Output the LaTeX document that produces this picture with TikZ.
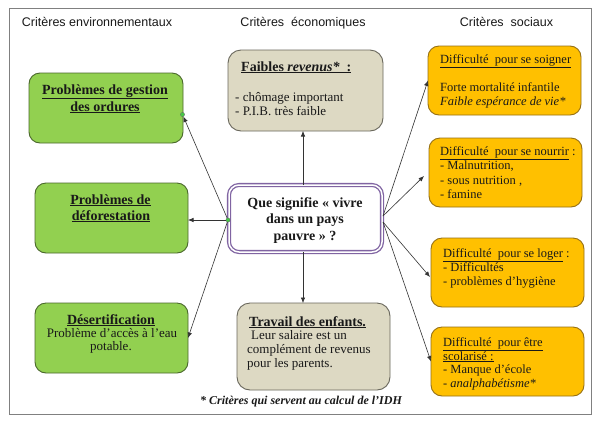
\documentclass[tikz,border=0pt]{standalone}
\usepackage{fontspec}
\setmainfont{Liberation Serif}
\setsansfont{Liberation Sans}
\usetikzlibrary{arrows.meta}
\definecolor{gfill}{RGB}{146,208,80}
\definecolor{gline}{RGB}{74,104,44}
\definecolor{bfill}{RGB}{221,217,195}
\definecolor{bline}{RGB}{105,103,92}
\definecolor{ofill}{RGB}{255,192,0}
\definecolor{oline}{RGB}{150,112,20}
\definecolor{pline}{RGB}{128,100,162}
\definecolor{txtc}{RGB}{25,25,25}
\definecolor{dotc}{RGB}{70,200,70}
\definecolor{framec}{RGB}{128,128,128}
\newcommand\myfA{\fontsize{14}{16}\selectfont\bfseries}
\newcommand\myfB{\fontsize{13}{14}\selectfont}
\newcommand\myfC{\fontsize{12.5}{14}\selectfont}
\newcommand\myfH{\sffamily\fontsize{12.5}{14}\selectfont}
\newcommand\myfN{\fontsize{12}{14}\selectfont\bfseries\itshape}
\begin{document}
\begin{tikzpicture}[x=1pt,y=-1pt,
  box/.style={rounded corners=11pt, line width=0.9pt, inner sep=0pt, outer sep=0pt},
  gbox/.style={box, draw=gline, fill=gfill},
  bbox/.style={box, rounded corners=13pt, draw=bline, fill=bfill},
  obox/.style={box, draw=oline, fill=ofill},
  cbox/.style={box, rounded corners=10pt, draw=pline, double=white, line width=1.3pt, double distance=1.5pt},
  tx/.style={inner sep=0pt, anchor=base west, text=txtc},
  tc/.style={inner sep=0pt, anchor=base, text=txtc},
  conn/.style={draw=black!80, line width=0.6pt},
  arr/.style={conn, -{Latex[length=5.5pt,width=4.5pt]}},
  gdot/.style={circle, inner sep=0pt, minimum size=4.2pt, fill=dotc, draw=black!60, line width=0.3pt}
]
\useasboundingbox (0,0) rectangle (599,421);
\node[draw=framec, line width=0.9pt, fill=white, minimum width=582pt, minimum height=406pt, inner sep=0pt] (frame) at (300,211) {};

% headers
\node[tc, font=\myfH] (h1) at (97,26) {Critères environnementaux};
\node[tc, font=\myfH] (h2) at (303,26) {Critères\ \ économiques};
\node[tc, font=\myfH] (h3) at (506.5,26) {Critères\ \ sociaux};

% boxes
\node[gbox, minimum width=154pt, minimum height=70pt] (g1) at (106,108) {};
\node[gbox, minimum width=153pt, minimum height=70pt] (g2) at (111.5,218) {};
\node[gbox, minimum width=153pt, minimum height=70pt] (g3) at (111.5,338) {};
\node[bbox, minimum width=155pt, minimum height=81pt] (b1) at (305.5,90.5) {};
\node[bbox, minimum width=153pt, minimum height=87pt] (b2) at (313.5,346.5) {};
\node[cbox, fill=white, minimum width=153pt, minimum height=67pt] (c) at (305.5,218.5) {};
\node[obox, minimum width=153pt, minimum height=69pt] (o1) at (504.5,80.5) {};
\node[obox, minimum width=153pt, minimum height=69pt] (o2) at (505.5,172.5) {};
\node[obox, minimum width=153pt, minimum height=69pt] (o3) at (507.5,272.5) {};
\node[obox, minimum width=153pt, minimum height=69pt] (o4) at (507.5,361.5) {};

% green texts
\node[tc, font=\myfA] (g1a) at (105,94) {\underline{Problèmes de gestion}};
\node[tc, font=\myfA] (g1b) at (105,111) {\underline{des ordures}};
\node[tc, font=\myfA] (g2a) at (110.5,204) {\underline{Problèmes de}};
\node[tc, font=\myfA] (g2b) at (111,220) {\underline{déforestation}};
\node[tc, font=\myfA] (g3a) at (111,324) {\underline{Désertification}};
\node[tc, font=\myfB] (g3b) at (112,337.5) {Problème d’accès à l’eau};
\node[tc, font=\myfB] (g3c) at (111,350.5) {potable.};

% central texts
\node[tc, font=\myfA] (c1) at (305,207) {Que signifie « vivre};
\node[tc, font=\myfA] (c2) at (305,223.5) {dans un pays};
\node[tc, font=\myfA] (c3) at (305,240) {pauvre » ?};

% beige texts
\node[tx, font=\myfA] (b1a) at (241,71) {\underline{Faibles \textit{revenus*}\ \ :}};
\node[tx, font=\myfB] (b1b) at (235,101) {- chômage important};
\node[tx, font=\myfB] (b1c) at (235,115) {- P.I.B. très faible};
\node[tx, font=\myfA] (b2a) at (249,326) {\underline{Travail des enfants.}};
\node[tx, font=\myfB] (b2b) at (251,339) {Leur salaire est un};
\node[tx, font=\myfB] (b2c) at (247,353) {complément de revenus};
\node[tx, font=\myfB] (b2d) at (247,367) {pour les parents.};

% orange texts
\node[tx, font=\myfC] (o1a) at (440,63) {\underline{Difficulté\ \ pour se soigner}};
\node[tx, font=\myfC] (o1b) at (440,91) {Forte mortalité infantile};
\node[tx, font=\myfC] (o1c) at (440,105) {\textit{Faible espérance de vie*}};
\node[tx, font=\myfC] (o2a) at (440,155) {\underline{Difficulté\ \ pour se nourrir} :};
\node[tx, font=\myfC] (o2b) at (440,169.5) {- Malnutrition,};
\node[tx, font=\myfC] (o2c) at (440,184) {- sous nutrition ,};
\node[tx, font=\myfC] (o2d) at (440,198) {- famine};
\node[tx, font=\myfC] (o3a) at (443,257) {\underline{Difficulté\ \ pour se loger} :};
\node[tx, font=\myfC] (o3b) at (443,271) {- Difficultés};
\node[tx, font=\myfC] (o3c) at (443,285) {- problèmes d’hygiène};
\node[tx, font=\myfC] (o4a) at (443,346) {\underline{Difficulté\ \ pour être}};
\node[tx, font=\myfC] (o4b) at (443,360) {\underline{scolarisé :}};
\node[tx, font=\myfC] (o4c) at (443,373.5) {- Manque d’école};
\node[tx, font=\myfC] (o4d) at (443,387) {- \textit{analphabétisme*}};

% footnote
\node[tc, font=\myfN] (note) at (301,404) {* Critères qui servent au calcul de l’IDH};

% connectors
\coordinate (vx) at (303,0);
\draw[arr] (c.north -| vx) -- (b1.south -| vx);
\draw[arr] (c.south -| vx) -- (b2.north -| vx);

\node[gdot] (dL) at (228,220) {};
\node[gdot] (dG) at (182.5,114.5) {};
\draw[arr] (dL) -- (g2.east |- dL);
\draw[arr] (dL) -- (dG);
\draw[arr] (dL) -- (g3.east);

\coordinate (Ru) at (383,216);
\coordinate (Rl) at (383,222);
\coordinate (o2t) at (424,176);
\coordinate (o3t) at (430,277);
\draw[arr] (Ru) -- (o1.west);
\draw[arr] (Ru) -- (o2t);
\draw[arr] (Rl) -- (o3t);
\draw[arr] (Rl) -- (o4.west);
\end{tikzpicture}
\end{document}
